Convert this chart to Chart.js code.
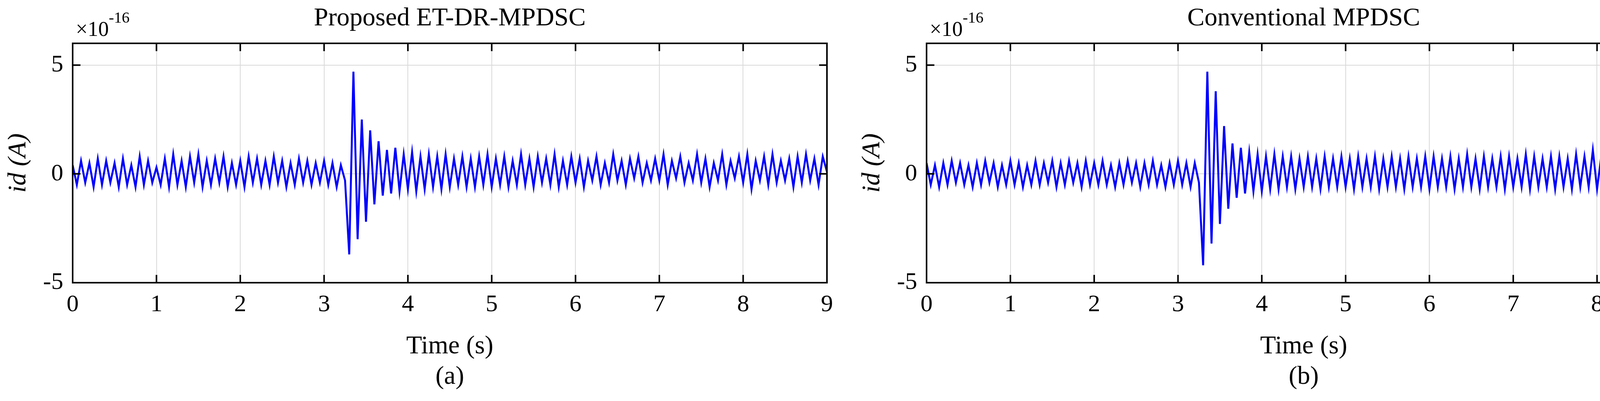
<!DOCTYPE html>
<html><head><meta charset="utf-8">
<script src="https://cdn.jsdelivr.net/npm/chart.js@4/dist/chart.umd.min.js"></script>
<style>body{margin:0;background:#fff;width:4349px;height:1027px;overflow:hidden;position:relative}
canvas{position:absolute;top:0}</style></head><body>
<canvas id="c1" style="left:0"></canvas><canvas id="c2" style="left:2186px"></canvas>
<script>
const timeStep = 0.05;
const xTicks = [0,1,2,3,4,5,6,7,8,9];
const yTicks = [-5,0,5];
const titles = ["Proposed ET-DR-MPDSC","Conventional MPDSC"];
const captions = ["(a)","(b)"];
const idProposed = [
0.4,-0.5,0.6,-0.4,0.5,-0.6,0.7,-0.5,0.6,-0.4,
0.5,-0.6,0.7,-0.5,0.4,-0.6,0.8,-0.5,0.6,-0.4,
0.3,-0.5,0.7,-0.6,0.9,-0.5,0.6,-0.6,0.8,-0.4,
0.9,-0.6,0.6,-0.5,0.7,-0.4,0.8,-0.6,0.5,-0.5,
0.6,-0.6,0.8,-0.4,0.7,-0.5,0.6,-0.5,0.8,-0.4,
0.6,-0.6,0.5,-0.5,0.7,-0.4,0.6,-0.5,0.5,-0.4,
0.6,-0.5,0.5,-0.6,0.4,-0.3,
-3.7,4.7,-3.0,2.5,-2.2,2.0,-1.4,1.5,-1.0,1.1,
-0.9,1.2,-0.8,0.9,-0.7,1.0,-0.8,0.8,-0.7,0.9,-0.6,0.8,-0.7,0.9,-0.6,0.7,-0.5,0.8,-0.6,0.7,-0.6,0.8,-0.5,0.9,
-0.6,0.7,-0.5,0.8,-0.6,0.6,-0.5,0.9,-0.5,0.7,
-0.6,0.8,-0.4,0.7,-0.5,0.9,-0.6,0.6,-0.5,0.8,
-0.4,0.7,-0.6,0.6,-0.3,0.8,-0.5,0.5,-0.4,0.9,
-0.3,0.6,-0.5,0.7,-0.2,0.8,-0.4,0.5,-0.3,0.7,
-0.3,0.9,-0.5,0.6,-0.2,0.8,-0.4,0.5,-0.3,0.9,
-0.4,0.7,-0.6,0.5,-0.3,0.9,-0.5,0.6,-0.2,0.8,
-0.4,0.9,-0.7,0.6,-0.3,0.8,-0.5,0.9,-0.4,0.6,
-0.3,0.7,-0.6,0.8,-0.4,0.9,-0.3,0.7,-0.5,0.8,
0.1];
const idConventional = [
0.5,-0.5,0.4,-0.6,0.5,-0.5,0.6,-0.4,0.5,-0.5,
0.4,-0.6,0.5,-0.5,0.6,-0.4,0.5,-0.6,0.4,-0.5,
0.6,-0.5,0.5,-0.6,0.4,-0.5,0.6,-0.5,0.5,-0.4,
0.6,-0.6,0.5,-0.5,0.6,-0.4,0.5,-0.6,0.6,-0.5,
0.5,-0.5,0.6,-0.5,0.4,-0.6,0.5,-0.5,0.6,-0.4,
0.5,-0.6,0.5,-0.5,0.6,-0.5,0.4,-0.6,0.5,-0.5,
0.6,-0.5,0.5,-0.6,0.5,-0.4,
-4.2,4.7,-3.2,3.8,-2.3,2.2,-1.6,1.4,-1.1,1.2,
-0.9,1.0,-0.8,0.9,-0.8,0.8,-0.7,0.9,-0.7,0.8,-0.6,0.8,-0.7,0.7,-0.6,0.8,-0.6,0.7,-0.7,0.8,-0.6,0.7,-0.6,0.8,
-0.6,0.7,-0.7,0.8,-0.6,0.7,-0.6,0.8,-0.7,0.7,
-0.6,0.8,-0.6,0.7,-0.7,0.8,-0.6,0.7,-0.6,0.8,
-0.7,0.8,-0.6,0.7,-0.6,0.8,-0.7,0.7,-0.6,0.9,
-0.6,0.7,-0.7,0.8,-0.6,0.7,-0.6,0.8,-0.7,0.8,
-0.6,0.7,-0.6,0.9,-0.7,0.8,-0.6,0.7,-0.6,0.8,
-0.7,0.8,-0.6,0.7,-0.7,0.9,-0.6,0.8,-0.6,1.1,
-0.7,0.8,-0.6,0.9,-0.7,0.8,-0.6,0.9,-0.7,0.8,
-0.6,0.9,-0.7,0.8,-0.6,0.9,-0.7,0.8,-0.6,0.9,
-0.3];
const FONT = "'Liberation Serif', 'Times New Roman', serif";

const decor = {
  id:'decor',
  afterDraw(chart){
    const {ctx, chartArea:a, scales:{x,y}} = chart;
    const o = chart.options.plugins.decor;
    ctx.save();
    ctx.strokeStyle='#000'; ctx.lineWidth=4;
    ctx.strokeRect(a.left,a.top,a.right-a.left,a.bottom-a.top);
    ctx.beginPath();
    xTicks.forEach(v=>{const px=x.getPixelForValue(v);
      ctx.moveTo(px,a.bottom);ctx.lineTo(px,a.bottom-20);
      ctx.moveTo(px,a.top);ctx.lineTo(px,a.top+20);});
    yTicks.forEach(v=>{const py=y.getPixelForValue(v);
      ctx.moveTo(a.left,py);ctx.lineTo(a.left+20,py);
      ctx.moveTo(a.right,py);ctx.lineTo(a.right-20,py);});
    ctx.stroke();
    ctx.fillStyle='#000';
    ctx.textAlign='center'; ctx.textBaseline='middle';
    const cx=(a.left+a.right)/2;
    ctx.font='66px '+FONT;
    ctx.fillText(o.title,cx,48);
    ctx.fillText('Time (s)',cx,888);
    ctx.fillText(o.caption,cx,966);
    ctx.save();
    ctx.translate(48,(a.top+a.bottom)/2);
    ctx.rotate(-Math.PI/2);
    ctx.font='italic 66px '+FONT;
    ctx.fillText('id (A)',0,0);
    ctx.restore();
    ctx.textAlign='left'; ctx.textBaseline='alphabetic';
    ctx.font='54px '+FONT;
    ctx.fillText('\u00d710',a.left+8,92);
    const w=ctx.measureText('\u00d710').width;
    ctx.font='40px '+FONT;
    ctx.fillText('-16',a.left+8+w,58);
    ctx.restore();
  }
};

function make(id, data, title, caption){
  const pts = data.map((v,i)=>({x:+(i*timeStep).toFixed(3), y:v}));
  const cv=document.getElementById(id);
  cv.width=2163; cv.height=1027;
  cv.style.width='2163px'; cv.style.height='1027px';
  return new Chart(cv,{
    type:'line',
    data:{datasets:[{data:pts,borderColor:'#0000ff',borderWidth:5,pointRadius:0,tension:0}]},
    plugins:[decor],
    options:{
      responsive:false, animation:false, devicePixelRatio:1,
      layout:{padding:{top:111,right:46,left:0,bottom:0}},
      plugins:{legend:{display:false},tooltip:{enabled:false},decor:{title,caption}},
      scales:{
        x:{type:'linear',min:0,max:9,
          afterBuildTicks(s){s.ticks=xTicks.map(v=>({value:v}));},
          afterFit(s){s.height=303;},
          grid:{color:'#d9d9d9',lineWidth:2,drawTicks:false},
          border:{display:false},
          ticks:{font:{family:FONT,size:62},color:'#000',padding:20,maxRotation:0},
          title:{display:false}},
        y:{min:-5,max:6,
          afterBuildTicks(s){s.ticks=yTicks.map(v=>({value:v}));},
          afterFit(s){s.width=186;},
          grid:{color:'#d9d9d9',lineWidth:2,drawTicks:false},
          border:{display:false},
          ticks:{font:{family:FONT,size:62},color:'#000',padding:24},
          title:{display:false}}
      }
    }
  });
}
make('c1', idProposed, titles[0], captions[0]);
make('c2', idConventional, titles[1], captions[1]);
</script></body></html>
